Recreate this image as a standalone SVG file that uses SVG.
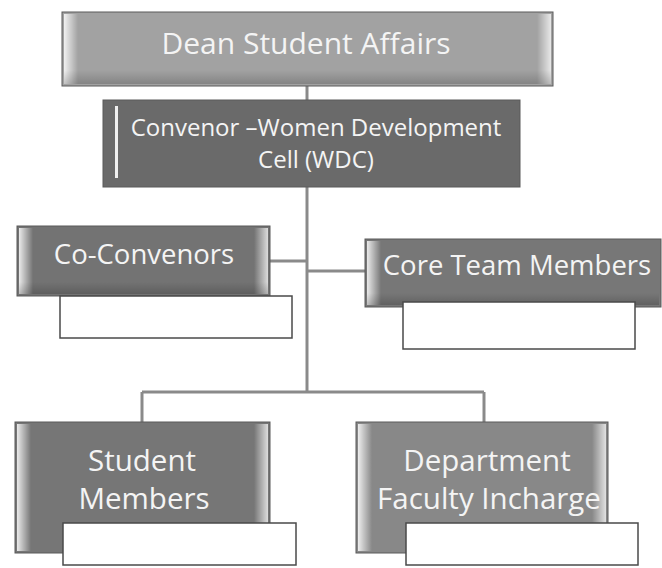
<svg xmlns="http://www.w3.org/2000/svg" width="662" height="568" viewBox="0 0 662 568">
  <defs>
    <linearGradient id="bevelL" x1="0" y1="0" x2="1" y2="0">
      <stop offset="0" stop-color="#ffffff" stop-opacity="0.85"/>
      <stop offset="1" stop-color="#ffffff" stop-opacity="0"/>
    </linearGradient>
    <linearGradient id="bevelR" x1="1" y1="0" x2="0" y2="0">
      <stop offset="0" stop-color="#ffffff" stop-opacity="0.75"/>
      <stop offset="1" stop-color="#ffffff" stop-opacity="0"/>
    </linearGradient>
    <linearGradient id="bevelB" x1="0" y1="1" x2="0" y2="0">
      <stop offset="0" stop-color="#000000" stop-opacity="0.18"/>
      <stop offset="1" stop-color="#000000" stop-opacity="0"/>
    </linearGradient>
  </defs>
  <style>
    .box { stroke: #5a5a5a; stroke-width: 1; }
    .sub { fill: #ffffff; stroke: #4a4a4a; stroke-width: 1.5; }
    .lbl { font-family: "Open Sans", "Liberation Sans", sans-serif; fill: #f4f4f4; text-anchor: middle; }
    .conn { fill: none; stroke: #8a8a8a; stroke-width: 3; }
  </style>

  <rect width="662" height="568" fill="#ffffff"/>

  <g id="connectors">
    <path class="conn" d="M307 86 V100"/>
    <path class="conn" d="M307 187 V392"/>
    <path class="conn" d="M270 261 H307"/>
    <path class="conn" d="M307 271 H365"/>
    <path class="conn" d="M142 392 H484"/>
    <path class="conn" d="M142 392 V422"/>
    <path class="conn" d="M484 392 V422"/>
  </g>

  <g id="dean">
    <rect class="box" x="62" y="12" width="491" height="74" fill="#a2a2a2"/>
    <rect x="64" y="14" width="14" height="70" fill="url(#bevelL)"/>
    <rect x="537" y="14" width="14" height="70" fill="url(#bevelR)"/>
    <rect x="64" y="70" width="487" height="14" fill="url(#bevelB)"/>
    <text class="lbl" x="306" y="54" font-size="30">Dean Student Affairs</text>
  </g>

  <g id="convenor">
    <rect class="box" x="103" y="100" width="417" height="87" fill="#6a6a6a"/>
    <rect x="115" y="106" width="3" height="72" fill="#ffffff" opacity="0.9"/>
    <text class="lbl" x="316" y="136" font-size="24">Convenor –Women Development</text>
    <text class="lbl" x="316" y="168" font-size="24">Cell (WDC)</text>
  </g>

  <g id="co-convenors">
    <rect class="box" x="17" y="226" width="253" height="70" fill="#737373"/>
    <rect x="19" y="228" width="14" height="66" fill="url(#bevelL)"/>
    <rect x="254" y="228" width="14" height="66" fill="url(#bevelR)"/>
    <rect x="19" y="282" width="249" height="12" fill="url(#bevelB)"/>
    <text class="lbl" x="144" y="264" font-size="27.5">Co-Convenors</text>
    <rect class="sub" x="60" y="296" width="232" height="42"/>
  </g>

  <g id="core-team">
    <rect class="box" x="365" y="239" width="296" height="68" fill="#777777"/>
    <rect x="367" y="241" width="14" height="64" fill="url(#bevelL)"/>
    <rect x="367" y="293" width="292" height="12" fill="url(#bevelB)"/>
    <text class="lbl" x="517" y="275" font-size="27.5">Core Team Members</text>
    <rect class="sub" x="403" y="302" width="232" height="47"/>
  </g>

  <g id="student-members">
    <rect class="box" x="15" y="422" width="255" height="131" fill="#767676"/>
    <rect x="17" y="424" width="14" height="127" fill="url(#bevelL)"/>
    <rect x="254" y="424" width="14" height="127" fill="url(#bevelR)"/>
    <text class="lbl" x="142" y="471" font-size="29.5">Student</text>
    <text class="lbl" x="144" y="509" font-size="29.5">Members</text>
    <rect class="sub" x="63" y="523" width="233" height="42"/>
  </g>

  <g id="department-faculty">
    <rect class="box" x="356" y="422" width="252" height="131" fill="#888888"/>
    <rect x="358" y="424" width="14" height="127" fill="url(#bevelL)"/>
    <rect x="592" y="424" width="14" height="127" fill="url(#bevelR)"/>
    <text class="lbl" x="487" y="471" font-size="29.5">Department</text>
    <text class="lbl" x="489" y="509" font-size="29.5">Faculty Incharge</text>
    <rect class="sub" x="406" y="523" width="232" height="42"/>
  </g>
</svg>
